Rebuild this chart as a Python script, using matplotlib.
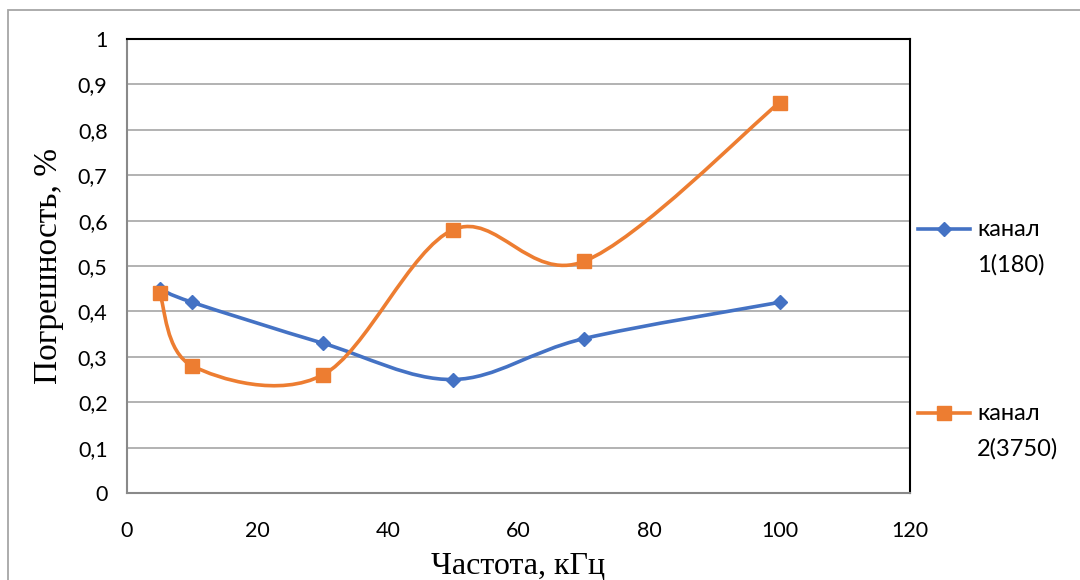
import numpy as np
import matplotlib
matplotlib.use('Agg')
import matplotlib.pyplot as plt
from matplotlib.path import Path
from matplotlib.patches import PathPatch, Rectangle
from matplotlib.lines import Line2D

# ============================ данные ============================
freq = [5, 10, 30, 50, 70, 100]
kanal1 = [0.45, 0.42, 0.33, 0.25, 0.34, 0.42]
kanal2 = [0.44, 0.28, 0.26, 0.58, 0.51, 0.86]
labels = ['канал\n1(180)', 'канал\n2(3750)']
colors = ['#4472C4', '#ED7D31']
markers = ['D', 's']
msizes = [7, 10]

xticks = [0, 20, 40, 60, 80, 100, 120]
yticks = [0, 0.1, 0.2, 0.3, 0.4, 0.5, 0.6, 0.7, 0.8, 0.9, 1.0]


def smooth_path(x, y):
    # сглаживание как в Excel (Catmull-Rom -> Bezier)
    pts = np.column_stack([x, y]).astype(float)
    n = len(pts)
    verts = [pts[0]]
    codes = [Path.MOVETO]
    for i in range(n - 1):
        p0 = pts[i - 1] if i > 0 else pts[i]
        p1 = pts[i]
        p2 = pts[i + 1]
        p3 = pts[i + 2] if i + 2 < n else pts[i + 1]
        c1 = p1 + (p2 - p0) / 6.0
        c2 = p2 - (p3 - p1) / 6.0
        verts += [c1, c2, p2]
        codes += [Path.CURVE4] * 3
    return Path(verts, codes)


W, H = 1080, 580
fig = plt.figure(figsize=(W / 100, H / 100), dpi=100)
ax = fig.add_axes([127 / W, 87 / H, (910 - 127) / W, (493 - 39) / H])

# рамка диаграммы
fig.patches.append(Rectangle((8 / W, -0.1), 1.2, 1.1 - 10 / H,
                             transform=fig.transFigure, fill=False,
                             edgecolor='#A6A6A6', lw=1.3))

for ys, c, m, ms in zip([kanal1, kanal2], colors, markers, msizes):
    ax.add_patch(PathPatch(smooth_path(freq, ys), fill=False, edgecolor=c,
                           lw=2.6, capstyle='round', joinstyle='round'))
    ax.plot(freq, ys, linestyle='none', marker=m, ms=ms, color=c)

ax.set_xlim(0, 120)
ax.set_ylim(0, 1)
ax.set_xticks(xticks)
ax.set_yticks(yticks)
ax.set_yticklabels([('%g' % v).replace('.', ',') for v in yticks])
ax.tick_params(length=0, labelsize=15.5, pad=14)
ax.tick_params(axis='x', pad=20)
for lab in ax.get_xticklabels() + ax.get_yticklabels():
    lab.set_fontfamily('Lato')

ax.grid(axis='y', color='#A6A6A6', lw=1.2)
ax.set_axisbelow(True)
ax.spines['left'].set_color('#898989')
ax.spines['bottom'].set_color('#898989')
ax.spines['top'].set_color('black')
ax.spines['right'].set_color('black')
for s in ax.spines.values():
    s.set_linewidth(1.5)

ax.set_xlabel('Частота, кГц', fontsize=23, family='Liberation Serif', labelpad=8)
ax.set_ylabel('Погрешность, %', fontsize=24, family='Liberation Serif', labelpad=10)

# легенда (вручную, как в Excel)
leg_y = [229, 413]
for c, m, ms, lab, yy in zip(colors, markers, msizes, labels, leg_y):
    fy = 1 - yy / H
    fig.add_artist(Line2D([918 / W, 970 / W], [fy, fy], color=c, lw=2.6,
                          transform=fig.transFigure))
    fig.add_artist(Line2D([944 / W], [fy], color=c, marker=m, ms=ms,
                          transform=fig.transFigure))
    for k, line in enumerate(lab.split('\n')):
        fig.text(977 / W, 1 - (yy + 36 * k) / H, line, fontsize=17,
                 family='Lato', va='center', ha='left')

fig.savefig('out.png', dpi=100)
